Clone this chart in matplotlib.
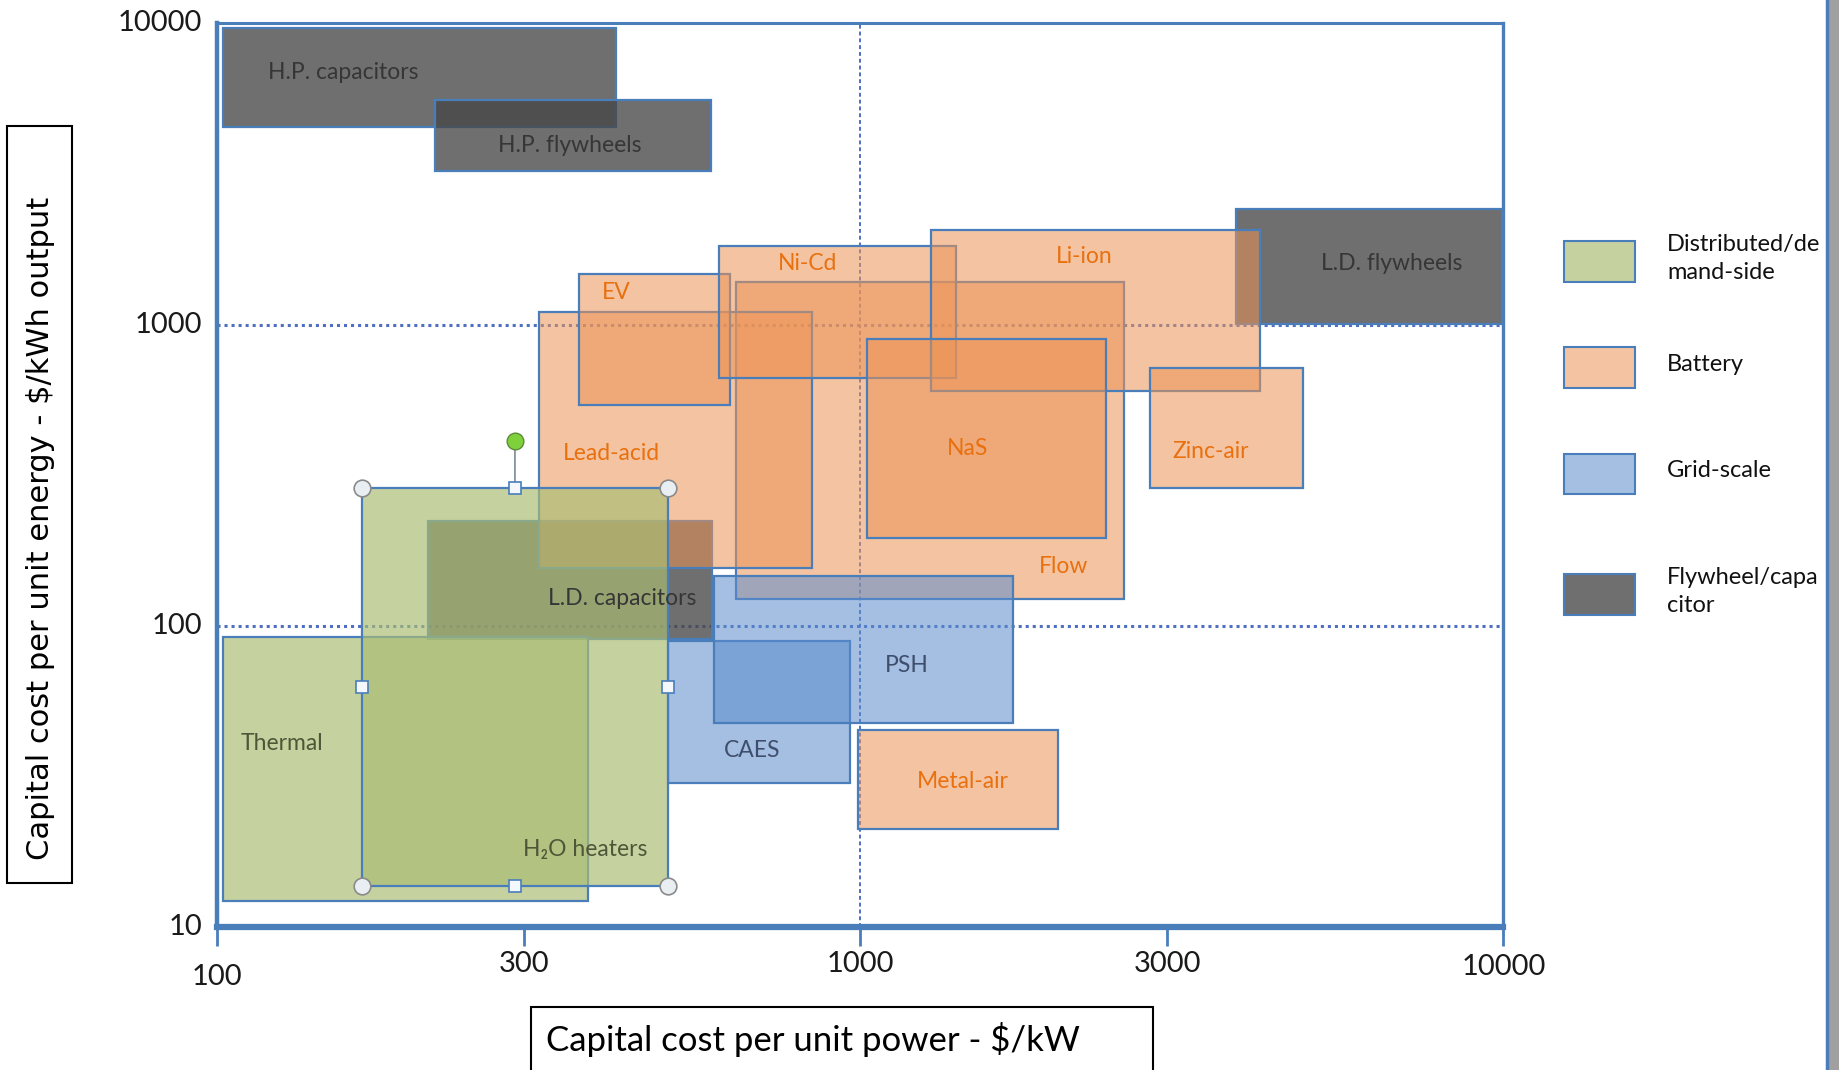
import numpy as np
import matplotlib
matplotlib.use("Agg")
import matplotlib.pyplot as plt
from matplotlib.patches import Rectangle
from matplotlib.lines import Line2D
from matplotlib import transforms

plt.rcParams["font.family"] = ["Lato", "DejaVu Sans"]

# ── Data: capital cost ranges per storage technology ─────────────────────────
tech_names = ["H.P. capacitors", "H.P. flywheels", "L.D. flywheels", "L.D. capacitors",
              "Flow", "Lead-acid", "EV", "Ni-Cd", "Li-ion", "NaS", "Zinc-air", "Metal-air",
              "CAES", "PSH", "Thermal", "H₂O heaters"]
tech_group = ["fly", "fly", "fly", "fly",
              "bat", "bat", "bat", "bat", "bat", "bat", "bat", "bat",
              "grid", "grid", "dist", "dist"]
power_lo  = [102, 218, 3840, 213, 641, 316, 365, 602, 1290, 1025, 2820, 992, 502, 592, 102, 168]
power_hi  = [417, 587, 9950, 589, 2570, 842, 627, 1410, 4190, 2410, 4880, 2030, 963, 1730, 377, 502]
energy_lo = [4540, 3230, 1006, 90, 123, 156, 542, 666, 603, 195, 287, 21.2, 30.1, 47.6, 12.2, 13.7]
energy_hi = [9650, 5580, 2420, 223, 1380, 1100, 1470, 1830, 2060, 895, 715, 45.1, 89.2, 146, 91.7, 287]

# label anchor per technology (data coords)
label_x = [157, 353, 6700, 426, 2070, 410, 417, 828, 2230, 1466, 3510, 1442, 680, 1183, 126, 374]
label_y = [6860, 3930, 1590, 123, 157, 372, 1282, 1590, 1678, 388, 378, 30.4, 38.4, 73.9, 40.5, 18.1]

groups        = ["dist", "bat", "grid", "fly"]
group_labels  = ["Distributed/de\nmand-side", "Battery", "Grid-scale", "Flywheel/capa\ncitor"]

x_ticks = [100, 300, 1000, 3000, 10000]
y_ticks = [10, 100, 1000, 10000]

styles = {
    "dist": dict(fc="#aabd73", alpha=0.68, tc="#4f5638"),
    "bat":  dict(fc="#ec9456", alpha=0.55, tc="#e8700f"),
    "grid": dict(fc="#5b8ccc", alpha=0.55, tc="#3e4e6c"),
    "fly":  dict(fc="#474747", alpha=0.78, tc="#363636"),
}
edge_blue = "#4a7ebb"

fig = plt.figure(figsize=(18.39, 10.70), dpi=100)
fig.patch.set_facecolor("white")
ax = fig.add_axes([0.1181, 0.1338, 0.6994, 0.8443])
ax.set_xscale("log")
ax.set_yscale("log")
ax.set_xlim(100, 10000)
ax.set_ylim(10, 10000)

for side, lw in {"left": 3.2, "bottom": 4.5, "top": 2.2, "right": 2.4}.items():
    ax.spines[side].set_color(edge_blue)
    ax.spines[side].set_linewidth(lw)

ax.xaxis.set_minor_locator(matplotlib.ticker.NullLocator())
ax.yaxis.set_minor_locator(matplotlib.ticker.NullLocator())
ax.set_xticks(x_ticks)
ax.set_xticklabels([])
ax.set_yticks(y_ticks)
ax.set_yticklabels([])
ax.tick_params(axis="x", direction="out", length=14, width=2, color=edge_blue)
ax.tick_params(axis="y", length=0)

# dotted reference lines
ax.axhline(1000, color="#4f6fc0", ls=(0, (1, 1.3)), lw=2.2, zorder=1)
ax.axhline(100, color="#4f6fc0", ls=(0, (1, 1.3)), lw=2.2, zorder=1)
ax.axvline(1000, color="#4f6fc0", ls=(0, (2, 1.5)), lw=1.4, zorder=1)

# ── Boxes: gray first, then battery, grid, distributed on top ───────────────
z = 2
for g in ["fly", "bat", "grid", "dist"]:
    s = styles[g]
    for i, name in enumerate(tech_names):
        if tech_group[i] != g:
            continue
        ax.add_patch(Rectangle((power_lo[i], energy_lo[i]),
                               power_hi[i] - power_lo[i], energy_hi[i] - energy_lo[i],
                               facecolor=s["fc"], alpha=s["alpha"], edgecolor="none", zorder=z))
        ax.add_patch(Rectangle((power_lo[i], energy_lo[i]),
                               power_hi[i] - power_lo[i], energy_hi[i] - energy_lo[i],
                               fill=False, edgecolor=edge_blue, lw=1.6, zorder=z + 0.5))
        z += 1

for i, name in enumerate(tech_names):
    s = styles[tech_group[i]]
    ax.text(label_x[i], label_y[i], name, ha="center", va="center", fontsize=16.5,
            color=s["tc"], family=["Liberation Sans Narrow", "Lato", "DejaVu Sans"],
            zorder=50)

# selection handles on the H2O heaters box
k = tech_names.index("H₂O heaters")
xm = np.sqrt(power_lo[k] * power_hi[k])
ym = np.sqrt(energy_lo[k] * energy_hi[k])
ax.plot([power_lo[k], power_hi[k], power_lo[k], power_hi[k]],
        [energy_lo[k], energy_lo[k], energy_hi[k], energy_hi[k]],
        "o", ms=12, mfc="#e9eef3", mec="#8a8a8a", mew=1.2, zorder=60)
ax.plot([xm, xm, power_lo[k], power_hi[k]], [energy_lo[k], energy_hi[k], ym, ym],
        "s", ms=9, mfc="#f4f7fb", mec=edge_blue, mew=1.2, zorder=60)
ax.annotate("", xy=(xm, energy_hi[k]), xytext=(0, 34), textcoords="offset points",
            arrowprops=dict(arrowstyle="-", color="#7a8a9a", lw=1.2), zorder=59)
rot = transforms.offset_copy(ax.transData, fig=fig, x=0, y=34, units="points")
ax.plot([xm], [energy_hi[k]], "o", ms=12, mfc="#7fd13b", mec="#5f8a3a", mew=1,
        transform=rot, zorder=61)

# ── Tick labels ─────────────────────────────────────────────────────────────
x_off = [36, 27, 27, 27, 29]
for v, off in zip(x_ticks, x_off):
    ax.annotate(f"{v}", xy=(v, 0), xycoords=("data", "axes fraction"),
                xytext=(0, -off), textcoords="offset points",
                ha="center", va="center", fontsize=21, color="#1a1a1a")
for v in y_ticks:
    ax.annotate(f"{v}", xy=(0, v), xycoords=("axes fraction", "data"),
                xytext=(-11, 0), textcoords="offset points",
                ha="right", va="center", fontsize=21, color="#1a1a1a")

# ── Axis titles in boxes ────────────────────────────────────────────────────
fig.add_artist(Rectangle((0.0038, 0.1743), 0.0351, 0.7084, fill=False,
                         ec="black", lw=1.5, transform=fig.transFigure))
fig.text(0.0218, 0.5066, "Capital cost per unit energy - $/kWh output", rotation=90,
         ha="center", va="center", fontsize=22, family=["DejaVu Sans"])
fig.add_artist(Rectangle((0.2885, -0.02), 0.3382, 0.0792, fill=False,
                         ec="black", lw=1.5, transform=fig.transFigure))
fig.text(0.4422, 0.0285, "Capital cost per unit power - $/kW",
         ha="center", va="center", fontsize=25)

# ── Legend ──────────────────────────────────────────────────────────────────
leg_y = [0.7555, 0.6568, 0.557, 0.4441]
for g, lab, yc in zip(groups, group_labels, leg_y):
    s = styles[g]
    fig.add_artist(Rectangle((0.8507, yc - 0.019), 0.0383, 0.038, facecolor=s["fc"],
                             alpha=s["alpha"], edgecolor="none", transform=fig.transFigure))
    fig.add_artist(Rectangle((0.8507, yc - 0.019), 0.0383, 0.038, fill=False,
                             edgecolor=edge_blue, lw=1.5, transform=fig.transFigure))
    fig.text(0.9065, yc + 0.003, lab, ha="left", va="center", fontsize=17,
             linespacing=1.4, color="#111111")

# window edge on the right
fig.add_artist(Line2D([0.9935, 0.9935], [0, 1], color=edge_blue, lw=2.5,
                      transform=fig.transFigure))
fig.add_artist(Rectangle((0.9948, 0), 0.0052, 1, facecolor="#a0a0a0", edgecolor="none",
                         transform=fig.transFigure))

fig.savefig("out.png", dpi=100)
